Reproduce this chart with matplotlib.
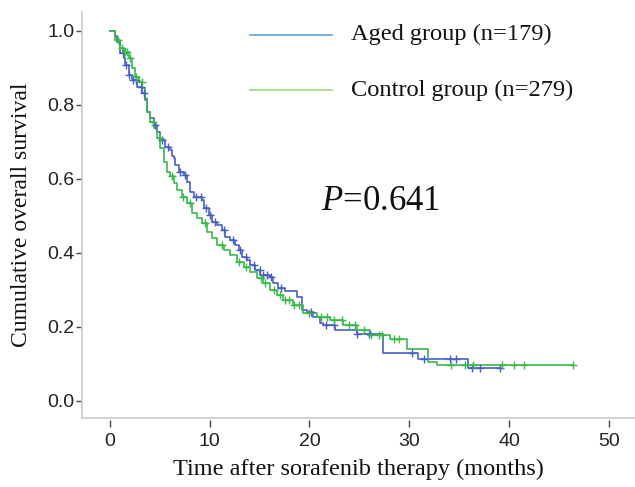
import numpy as np
import matplotlib
matplotlib.use("Agg")
import matplotlib.pyplot as plt

# ---------------- data ----------------
aged_label = "Aged group (n=179)"
ctrl_label = "Control group (n=279)"
p_text = "0.641"

aged_t = [0.0, 0.57, 0.74, 1.07, 1.4, 1.57, 1.9, 2.24, 2.74, 3.24, 3.57, 3.74, 4.07, 4.4,
          4.74, 5.07, 5.57, 6.07, 6.25, 6.4, 6.57, 6.9, 7.4, 7.74, 8.07, 8.4, 9.24, 9.4,
          9.9, 10.24, 10.74, 11.24, 11.57, 12.07, 12.57, 12.9, 13.24, 13.74, 14.07, 14.57,
          15.07, 16.07, 16.4, 16.9, 17.57, 18.74, 19.24, 19.74, 20.4, 21.07, 21.4, 22.6,
          24.8, 27.4, 30.9, 35.9, 39.1]
aged_s = [1.0, 0.985, 0.970, 0.938, 0.925, 0.907, 0.880, 0.866, 0.848, 0.830, 0.812, 0.781,
          0.763, 0.745, 0.726, 0.704, 0.686, 0.677, 0.662, 0.655, 0.636, 0.618, 0.609, 0.591,
          0.564, 0.551, 0.542, 0.519, 0.501, 0.483, 0.474, 0.461, 0.443, 0.434, 0.420, 0.407,
          0.389, 0.380, 0.366, 0.353, 0.339, 0.333, 0.317, 0.303, 0.297, 0.281, 0.245, 0.240,
          0.226, 0.209, 0.204, 0.191, 0.180, 0.129, 0.111, 0.087, 0.087]

ctrl_t = [0.0, 0.57, 1.07, 1.4, 1.9, 2.24, 2.57, 2.9, 3.24, 3.57, 3.74, 4.07, 4.4, 4.74,
          5.07, 5.4, 5.74, 6.07, 6.4, 6.74, 7.24, 7.74, 8.24, 8.74, 9.24, 9.74, 10.24, 10.74,
          11.4, 12.07, 12.74, 13.4, 14.07, 14.74, 15.4, 16.07, 16.74, 17.4, 18.4, 19.4, 20.74,
          22.07, 23.4, 24.74, 26.07, 28.07, 29.74, 31.9, 32.74, 46.4]
ctrl_s = [1.0, 0.974, 0.952, 0.943, 0.925, 0.898, 0.875, 0.862, 0.844, 0.817, 0.781, 0.754,
          0.736, 0.709, 0.682, 0.645, 0.618, 0.607, 0.587, 0.569, 0.551, 0.533, 0.506, 0.492,
          0.479, 0.456, 0.438, 0.420, 0.407, 0.393, 0.375, 0.362, 0.348, 0.330, 0.317, 0.299,
          0.285, 0.272, 0.258, 0.236, 0.226, 0.218, 0.204, 0.191, 0.177, 0.165, 0.138, 0.105,
          0.096, 0.096]

aged_cens = [1.3, 1.6, 1.9, 2.3, 2.6, 3.1, 3.4, 4.5, 5.2, 5.8, 7.0, 7.5, 8.6, 9.1, 9.6, 10.0,
             10.5, 11.4, 12.3, 13.0, 13.6, 14.4, 15.0, 15.4, 15.8, 16.2, 17.2, 20.2, 21.7,
             22.5, 24.8, 26.0, 30.3, 31.5, 34.1, 34.7, 36.3, 37.1, 39.1]
ctrl_cens = [0.8, 1.2, 1.5, 1.7, 2.0, 2.6, 3.2, 4.3, 5.0, 6.2, 7.3, 8.0, 9.5, 11.2, 12.9,
             13.6, 15.1, 15.6, 16.5, 17.1, 17.6, 18.0, 18.5, 19.0, 20.0, 21.2, 21.8, 22.5,
             23.3, 24.0, 24.6, 25.5, 26.2, 27.0, 27.3, 28.5, 29.0, 34.2, 35.6, 36.4, 39.3,
             40.5, 41.5, 46.4]

x_ticks = [0, 10, 20, 30, 40, 50]
y_ticks = [0.0, 0.2, 0.4, 0.6, 0.8, 1.0]
x_label = "Time after sorafenib therapy (months)"
y_label = "Cumulative overall survival"

# ---------------- style ----------------
plt.rcParams['mathtext.fontset'] = 'custom'
plt.rcParams['mathtext.rm'] = 'Liberation Serif'
plt.rcParams['mathtext.it'] = 'Liberation Serif:italic'

BLUE = '#4a5fc4'
GREEN = '#3cb94a'
LEG_BLUE = '#6fa8e0'
LEG_GREEN = '#a6dc86'
SPINE = '#c9c9c9'
TICKC = '#444444'

fig = plt.figure(figsize=(6.35, 4.87), dpi=100)
ax = fig.add_axes([0.1285, 0.1411, 0.8715, 0.835])


def surv_at(times, surv, pts):
    idx = np.searchsorted(np.asarray(times), np.asarray(pts), side='right') - 1
    return np.asarray(surv)[np.clip(idx, 0, len(surv) - 1)]


for t, s, c, col in [(aged_t, aged_s, aged_cens, BLUE), (ctrl_t, ctrl_s, ctrl_cens, GREEN)]:
    ax.step(t, s, where='post', color=col, lw=1.2, zorder=3)
    ax.plot(c, surv_at(t, s, c), linestyle='none', marker='+', ms=6, mew=1.0,
            color=col, zorder=4)

ax.set_xlim(-2.8, 52.57)
ax.set_ylim(-0.048, 1.051)

ax.set_xticks(x_ticks)
ax.set_yticks(y_ticks)
ax.set_yticklabels([f"{v:.1f}" for v in y_ticks])

for side in ['top', 'right']:
    ax.spines[side].set_visible(False)
ax.spines['left'].set_color(SPINE)
ax.spines['left'].set_linewidth(1.2)
ax.spines['bottom'].set_position(('outward', 1.0))
ax.spines['bottom'].set_visible(False)
ax.plot([0, 1], [0, 0], transform=ax.transAxes, color=SPINE, lw=1.2, clip_on=False, zorder=1)

ax.tick_params(axis='y', direction='out', length=4.3, width=1.0, color=TICKC, pad=1.0,
               labelsize=14, labelcolor='#222222')
ax.tick_params(axis='x', direction='out', length=4.8, width=1.0, color=TICKC, pad=4.5,
               labelsize=14, labelcolor='#222222')
for lab in ax.get_xticklabels() + ax.get_yticklabels():
    lab.set_family('Liberation Sans')

ax.set_xlabel(x_label, family='Liberation Serif', fontsize=17.5, color='#111111', labelpad=7)
ax.set_ylabel(y_label, family='Liberation Serif', fontsize=17, color='#111111', labelpad=11)

# legend drawn manually
ax.plot([0.305, 0.453], [0.943, 0.943], transform=ax.transAxes, color=LEG_BLUE, lw=1.3)
ax.plot([0.305, 0.453], [0.807, 0.807], transform=ax.transAxes, color=LEG_GREEN, lw=1.3)
ax.text(0.486, 0.943, aged_label, transform=ax.transAxes, va='center', ha='left',
        family='Liberation Serif', fontsize=17.6, color='#111111')
ax.text(0.486, 0.807, ctrl_label, transform=ax.transAxes, va='center', ha='left',
        family='Liberation Serif', fontsize=17.6, color='#111111')

ax.text(0.433, 0.534, r'$\mathit{P}$=' + p_text, transform=ax.transAxes, va='center', ha='left',
        family='Liberation Serif', fontsize=25, color='#111111')

fig.savefig('out.png', dpi=100)
